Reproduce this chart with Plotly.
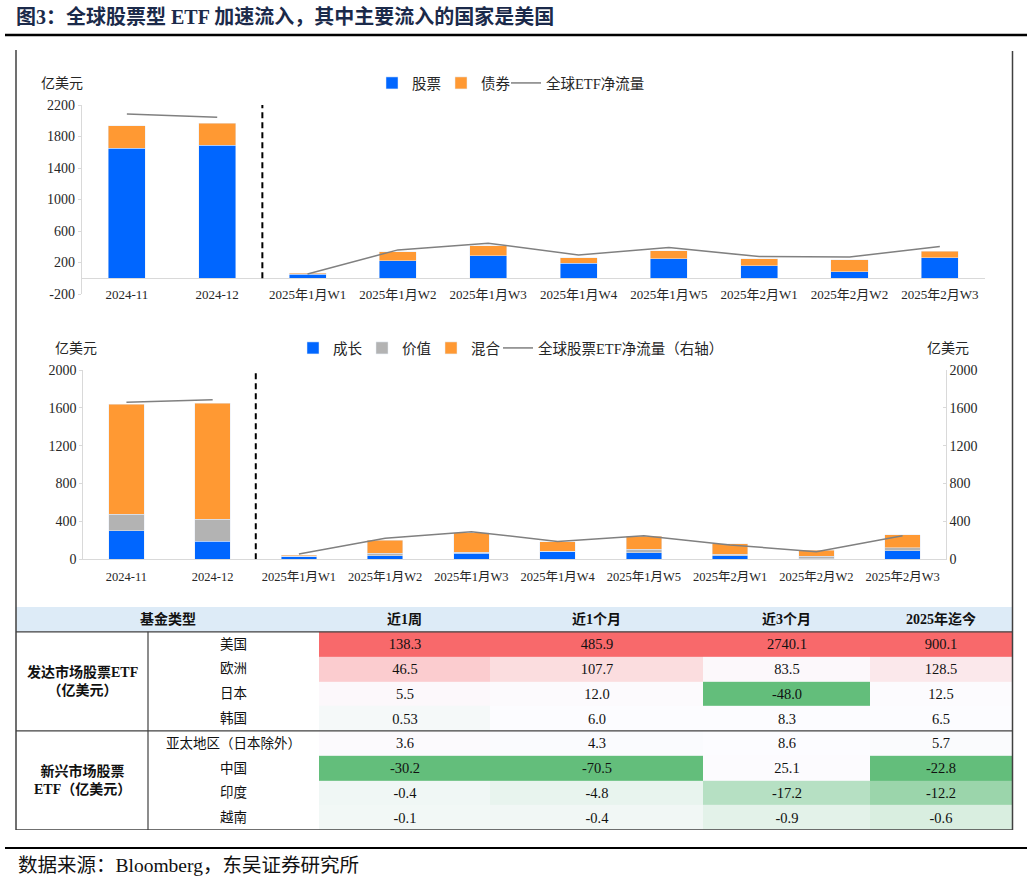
import numpy as np
import plotly.graph_objects as go

W, H = 1032, 882

# ---------------- data ----------------
categories = ["2024-11", "2024-12", "2025年1月W1", "2025年1月W2", "2025年1月W3",
              "2025年1月W4", "2025年1月W5", "2025年2月W1", "2025年2月W2", "2025年2月W3"]
n_month = 2  # first two categories are monthly, the rest weekly

stock_flow = [1650, 1690, 51, 220, 283, 190, 249, 156, 80, 258]
bond_flow = [285, 280, 12, 114, 131, 72, 102, 89, 157, 84]
etf_net_flow = [2086, 2044, 55, 360, 444, 296, 389, 275, 270, 402]

growth_flow = [300, 190, 28, 38, 63, 81, 70, 38, 8, 88]
value_flow = [175, 232, 3, 25, 11, 3, 36, 15, 23, 35]
blend_flow = [1165, 1229, 11, 137, 204, 102, 140, 109, 67, 134]
equity_net_flow = [1658, 1686, 56, 222, 292, 188, 250, 151, 81, 250]

top_ticks = [-200, 200, 600, 1000, 1400, 1800, 2200]
bottom_ticks = [0, 400, 800, 1200, 1600, 2000]

period_headers = ["近1周", "近1个月", "近3个月", "2025年迄今"]
regions = ["美国", "欧洲", "日本", "韩国", "亚太地区（日本除外）", "中国", "印度", "越南"]
flow_usa = ["138.3", "485.9", "2740.1", "900.1"]
flow_europe = ["46.5", "107.7", "83.5", "128.5"]
flow_japan = ["5.5", "12.0", "-48.0", "12.5"]
flow_korea = ["0.53", "6.0", "8.3", "6.5"]
flow_apac = ["3.6", "4.3", "8.6", "5.7"]
flow_china = ["-30.2", "-70.5", "25.1", "-22.8"]
flow_india = ["-0.4", "-4.8", "-17.2", "-12.2"]
flow_vietnam = ["-0.1", "-0.4", "-0.9", "-0.6"]
group_labels = ["<b>发达市场股票ETF</b><br><b>（亿美元）</b>", "<b>新兴市场股票</b><br><b>ETF（亿美元）</b>"]
group_rows = [1.5, 5.5]

# ---------------- styles ----------------
FONT = "Liberation Serif, Noto Sans CJK SC, serif"
TXT = "#262626"
BLUE = "#0066FF"
ORANGE = "#FF9933"
GREY = "#B3B3B3"
LINEC = "#808080"
AXC = "#D9D9D9"


def px(p):
    return p / W


def py(p):
    return 1 - p / H


fig = go.Figure()

# ---- chart 1 ----
fig.add_bar(x=categories, y=stock_flow, name="股票", marker_color=BLUE,
            xaxis="x", yaxis="y", legend="legend")
fig.add_bar(x=categories, y=bond_flow, name="债券", marker_color=ORANGE,
            xaxis="x", yaxis="y", legend="legend")
fig.add_scatter(x=categories[:n_month], y=etf_net_flow[:n_month], mode="lines",
                line=dict(color=LINEC, width=1.5), name="全球ETF净流量",
                xaxis="x", yaxis="y", legend="legend3", showlegend=False)
fig.add_scatter(x=categories[n_month:], y=etf_net_flow[n_month:], mode="lines",
                line=dict(color=LINEC, width=1.5), name="全球ETF净流量",
                xaxis="x", yaxis="y", legend="legend3")

# ---- chart 2 ----
fig.add_bar(x=categories, y=growth_flow, name="成长", marker_color=BLUE,
            xaxis="x2", yaxis="y2", legend="legend2")
fig.add_bar(x=categories, y=value_flow, name="价值", marker_color=GREY,
            xaxis="x2", yaxis="y2", legend="legend2")
fig.add_bar(x=categories, y=blend_flow, name="混合", marker_color=ORANGE,
            xaxis="x2", yaxis="y2", legend="legend2")
fig.add_scatter(x=categories[:n_month], y=equity_net_flow[:n_month], mode="lines",
                line=dict(color=LINEC, width=1.5), name="全球股票ETF净流量（右轴）",
                xaxis="x2", yaxis="y4", legend="legend4", showlegend=False)
fig.add_scatter(x=categories[n_month:], y=equity_net_flow[n_month:], mode="lines",
                line=dict(color=LINEC, width=1.5), name="全球股票ETF净流量（右轴）",
                xaxis="x2", yaxis="y4", legend="legend4")

# ---- table (heatmap of value cells) ----
rows = [flow_usa, flow_europe, flow_japan, flow_korea, flow_apac, flow_china, flow_india, flow_vietnam]
vals = np.array([[float(v) for v in r] for r in rows])
scores = np.zeros_like(vals)
for j in range(vals.shape[1]):
    col = vals[:, j]
    med = np.median(col)
    hi, lo = col.max(), col.min()
    for i, v in enumerate(col):
        scores[i, j] = (v - med) / (hi - med) if v >= med else -(med - v) / (med - lo)

col_edges = [319, 490, 703, 870, 1012]
fig.add_heatmap(x=col_edges, y=list(range(len(regions))), z=scores, text=rows,
                texttemplate="%{text}", textfont=dict(family=FONT, size=14.5, color="#111"),
                colorscale=[[0, "rgb(99,190,123)"], [0.5, "rgb(252,252,255)"], [1, "rgb(248,105,107)"]],
                zmin=-1, zmax=1, showscale=False, hoverinfo="skip", xaxis="x3", yaxis="y3")

annotations = []
shapes = []

# title
annotations.append(dict(text="<b>图3：全球股票型 ETF 加速流入，其中主要流入的国家是美国</b>",
                        xref="paper", yref="paper", x=px(14), y=py(17), xanchor="left", yanchor="middle",
                        showarrow=False, font=dict(family=FONT, size=20, color="#1B2A4A")))
shapes.append(dict(type="line", xref="paper", yref="paper", x0=px(5), x1=px(1027), y0=py(35), y1=py(35),
                   line=dict(color="black", width=2.5)))
# source
annotations.append(dict(text="数据来源：Bloomberg，东吴证券研究所", xref="paper", yref="paper",
                        x=px(16), y=py(865), xanchor="left", yanchor="middle", showarrow=False,
                        font=dict(family=FONT, size=19.5, color="#111")))
shapes.append(dict(type="line", xref="paper", yref="paper", x0=px(5), x1=px(1027), y0=py(848), y1=py(848),
                   line=dict(color="black", width=2)))
# frame
shapes.append(dict(type="line", xref="paper", yref="paper", x0=px(16), x1=px(16), y0=py(50), y1=py(830),
                   line=dict(color="#404040", width=1.5)))
shapes.append(dict(type="line", xref="paper", yref="paper", x0=px(1012.5), x1=px(1012.5), y0=py(51), y1=py(830),
                   line=dict(color="#404040", width=1.5)))

# axis unit titles
for ux, uy in [(62, 83), (76, 348), (948, 348)]:
    annotations.append(dict(text="亿美元", xref="paper", yref="paper", x=px(ux), y=py(uy),
                            xanchor="center", yanchor="middle", showarrow=False,
                            font=dict(family=FONT, size=14, color=TXT)))

# dashed dividers
shapes.append(dict(type="line", xref="x", yref="y", x0=n_month - 0.5, x1=n_month - 0.5, y0=0, y1=2200,
                   line=dict(color="black", width=2, dash="6px,4px")))
shapes.append(dict(type="line", xref="x2", yref="y2", x0=n_month - 0.5, x1=n_month - 0.5, y0=0, y1=2000,
                   line=dict(color="black", width=2, dash="6px,4px")))

# table header & labels
shapes.append(dict(type="rect", xref="x3", yref="y3", x0=16, x1=1012, y0=-1.5, y1=-0.5,
                   fillcolor="#DDEBF7", line=dict(width=0), layer="below"))
annotations.append(dict(text="<b>基金类型</b>", xref="x3", yref="y3", x=(16 + col_edges[0]) / 2, y=-1,
                        showarrow=False, font=dict(family=FONT, size=14, color="#111")))
for j, hdr in enumerate(period_headers):
    annotations.append(dict(text="<b>%s</b>" % hdr, xref="x3", yref="y3",
                            x=(col_edges[j] + col_edges[j + 1]) / 2, y=-1,
                            showarrow=False, font=dict(family=FONT, size=14, color="#111")))
for i, reg in enumerate(regions):
    annotations.append(dict(text=reg, xref="x3", yref="y3", x=(148 + col_edges[0]) / 2, y=i,
                            showarrow=False, font=dict(family=FONT, size=13.5, color="#111")))
for lab, r in zip(group_labels, group_rows):
    annotations.append(dict(text=lab, xref="x3", yref="y3", x=(16 + 148) / 2, y=r,
                            showarrow=False, font=dict(family=FONT, size=14, color="#111")))
for yv in [-0.5, 3.5]:
    shapes.append(dict(type="line", xref="x3", yref="y3", x0=16, x1=1012, y0=yv, y1=yv,
                       line=dict(color="#404040", width=1.2)))
shapes.append(dict(type="line", xref="x3", yref="y3", x0=16, x1=1012, y0=7.5, y1=7.5,
                   line=dict(color="#404040", width=1.5)))
shapes.append(dict(type="line", xref="x3", yref="y3", x0=148, x1=148, y0=-0.5, y1=7.5,
                   line=dict(color="#404040", width=1.2)))

tickfont_y = dict(family=FONT, size=14, color=TXT)
legfont = dict(family=FONT, size=14.5, color=TXT)


def legend_at(xp, yp, **kw):
    return dict(orientation="h", x=px(xp), y=py(yp), xanchor="left", yanchor="middle",
                font=legfont, bgcolor="rgba(0,0,0,0)", traceorder="normal", **kw)


fig.update_layout(
    width=W, height=H, margin=dict(l=0, r=0, t=0, b=0, autoexpand=False),
    paper_bgcolor="white", plot_bgcolor="white",
    barmode="stack", bargap=0.59,
    font=dict(family=FONT, color=TXT),
    xaxis=dict(domain=[px(81.7), px(985)], anchor="free", position=py(278.3), type="category",
               showline=True, linecolor=AXC, linewidth=1, ticks="", ticklabelstandoff=4,
               tickfont=dict(family=FONT, size=13, color=TXT), range=[-0.5, 9.5]),
    yaxis=dict(domain=[py(294), py(105)], range=[-200, 2200], tickvals=top_ticks,
               ticktext=[str(t) for t in top_ticks], anchor="x",
               showline=True, linecolor=AXC, showgrid=False, zeroline=False,
               ticks="outside", ticklen=3, tickcolor=AXC, tickfont=tickfont_y),
    xaxis2=dict(domain=[px(83.3), px(945.7)], anchor="y2", type="category",
                showline=True, linecolor=AXC, ticks="", ticklabelstandoff=6,
                tickfont=dict(family=FONT, size=12.5, color=TXT), range=[-0.5, 9.5]),
    yaxis2=dict(domain=[py(559.3), py(370)], range=[0, 2000], tickvals=bottom_ticks, anchor="x2",
                showline=True, linecolor=AXC, showgrid=False, zeroline=False,
                ticks="outside", ticklen=3, tickcolor=AXC, tickfont=tickfont_y),
    yaxis4=dict(overlaying="y2", side="right", anchor="x2", range=[0, 2000], tickvals=bottom_ticks,
                showline=True, linecolor=AXC, showgrid=False, zeroline=False,
                ticks="inside", ticklen=3, tickcolor=AXC, tickfont=tickfont_y),
    xaxis3=dict(domain=[px(16), px(1012)], range=[16, 1012], anchor="y3", visible=False),
    yaxis3=dict(domain=[py(830), py(607)], range=[7.5, -1.5], anchor="x3", visible=False),
    legend=legend_at(372, 83, entrywidth=24),
    legend3=legend_at(506, 83),
    legend2=legend_at(293, 348, entrywidth=24),
    legend4=legend_at(498, 348),
    annotations=annotations, shapes=shapes,
)

fig.write_html("out.html", config={"displayModeBar": False},
               post_script="document.body.style.margin='0';document.body.style.overflow='hidden';"
                           "document.documentElement.style.overflow='hidden';")
